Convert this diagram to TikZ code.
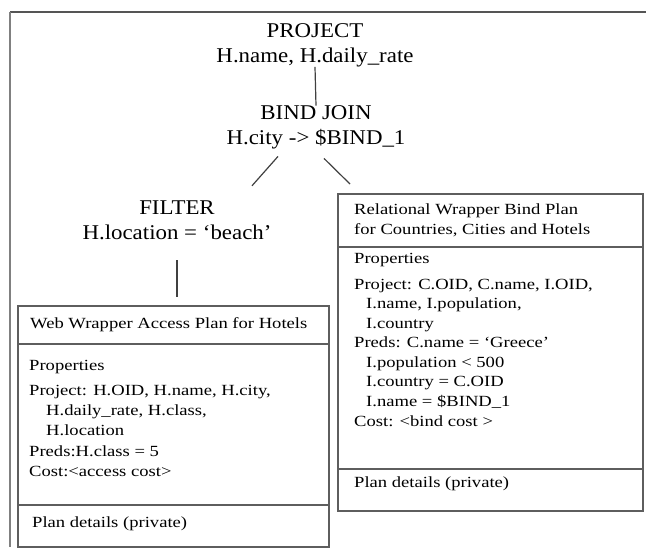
\documentclass[tikz,border=0pt]{standalone}
\usepackage{fontspec}
\setmainfont{Liberation Serif}
\newfontfamily\opfont{Liberation Serif}[FakeStretch=1.09]
\newfontfamily\planfont{Liberation Serif}[FakeStretch=1.2]
\definecolor{framegray}{HTML}{555555}
\definecolor{boxgray}{HTML}{5E5E5E}
\definecolor{linkgray}{HTML}{404040}
\begin{document}
\begin{tikzpicture}[x=1pt,y=-1pt,
  op/.style={font=\opfont\fontsize{21}{25}\selectfont, align=center, inner sep=0pt},
  planbox/.style={draw=boxgray, line width=1.5pt, inner sep=0pt, anchor=north west},
  divider/.style={draw=boxgray, line width=1.5pt},
  ptext/.style={font=\planfont\fontsize{15.5}{20}\selectfont, anchor=base west, inner sep=0pt},
  link/.style={draw=linkgray, line width=1.2pt}]
\useasboundingbox (0,0) rectangle (646,547);

% outer frame (top and left edges)
\draw[framegray, line width=2pt] (10,12) -- (646,12);
\draw[gray, line width=1.5pt] (10,12) -- (10,547);

% operator nodes
\node[op] (project) at (315,45) {PROJECT\\H.name, H.daily\_rate};
\node[op] (bindjoin) at (316,127.5) {BIND JOIN\\H.city -> \$BIND\_1};
\node[op] (filter) at (177,220.5) {FILTER\\H.location = ‘beach’};

% web wrapper plan box
\node[planbox, minimum width=311pt, minimum height=241pt] (lbox) at (17,305) {};
\draw[divider] ([shift={(0,39)}]lbox.north west) -- ([shift={(0,39)}]lbox.north east);
\draw[divider] ([shift={(0,200)}]lbox.north west) -- ([shift={(0,200)}]lbox.north east);
\node[ptext] (ltitle) at (30,328) {Web Wrapper Access Plan for Hotels};
\node[ptext] (lprops) at (29,370) {Properties};
\node[ptext] (lproj1) at (29,395) {Project: H.OID, H.name, H.city,};
\node[ptext] (lproj2) at (46,415) {H.daily\_rate, H.class,};
\node[ptext] (lproj3) at (46,435) {H.location};
\node[ptext] (lpreds) at (29,456) {Preds:H.class = 5};
\node[ptext] (lcost) at (29,476) {Cost:<access cost>};
\node[ptext] (ldetails) at (32,527) {Plan details (private)};

% relational wrapper plan box
\node[planbox, minimum width=305pt, minimum height=317pt] (rbox) at (337,193) {};
\draw[divider] ([shift={(0,54)}]rbox.north west) -- ([shift={(0,54)}]rbox.north east);
\draw[divider] ([shift={(0,276)}]rbox.north west) -- ([shift={(0,276)}]rbox.north east);
\node[ptext] (rtitle1) at (354,214) {Relational Wrapper Bind Plan};
\node[ptext] (rtitle2) at (354,234) {for Countries, Cities and Hotels};
\node[ptext] (rprops) at (354,263) {Properties};
\node[ptext] (rproj1) at (354,289) {Project: C.OID, C.name, I.OID,};
\node[ptext] (rproj2) at (366,308) {I.name, I.population,};
\node[ptext] (rproj3) at (366,328) {I.country};
\node[ptext] (rpreds1) at (354,347) {Preds: C.name = ‘Greece’};
\node[ptext] (rpreds2) at (366,367) {I.population < 500};
\node[ptext] (rpreds3) at (366,386) {I.country = C.OID};
\node[ptext] (rpreds4) at (366,406) {I.name = \$BIND\_1};
\node[ptext] (rcost) at (354,426) {Cost: <bind cost >};
\node[ptext] (rdetails) at (354,487) {Plan details (private)};

% connectors
\draw[link] (project.south) -- (bindjoin.north);
\draw[link] ([shift={(-38,7)}]bindjoin.south) -- ([shift={(75,-15)}]filter.north);
\draw[link] ([shift={(8,9)}]bindjoin.south) -- ([shift={(13,-9)}]rbox.north west);
\draw[link] ([shift={(0,20)}]filter.south) -- ([shift={(0,-8)}]filter.south |- lbox.north);
\end{tikzpicture}
\end{document}
